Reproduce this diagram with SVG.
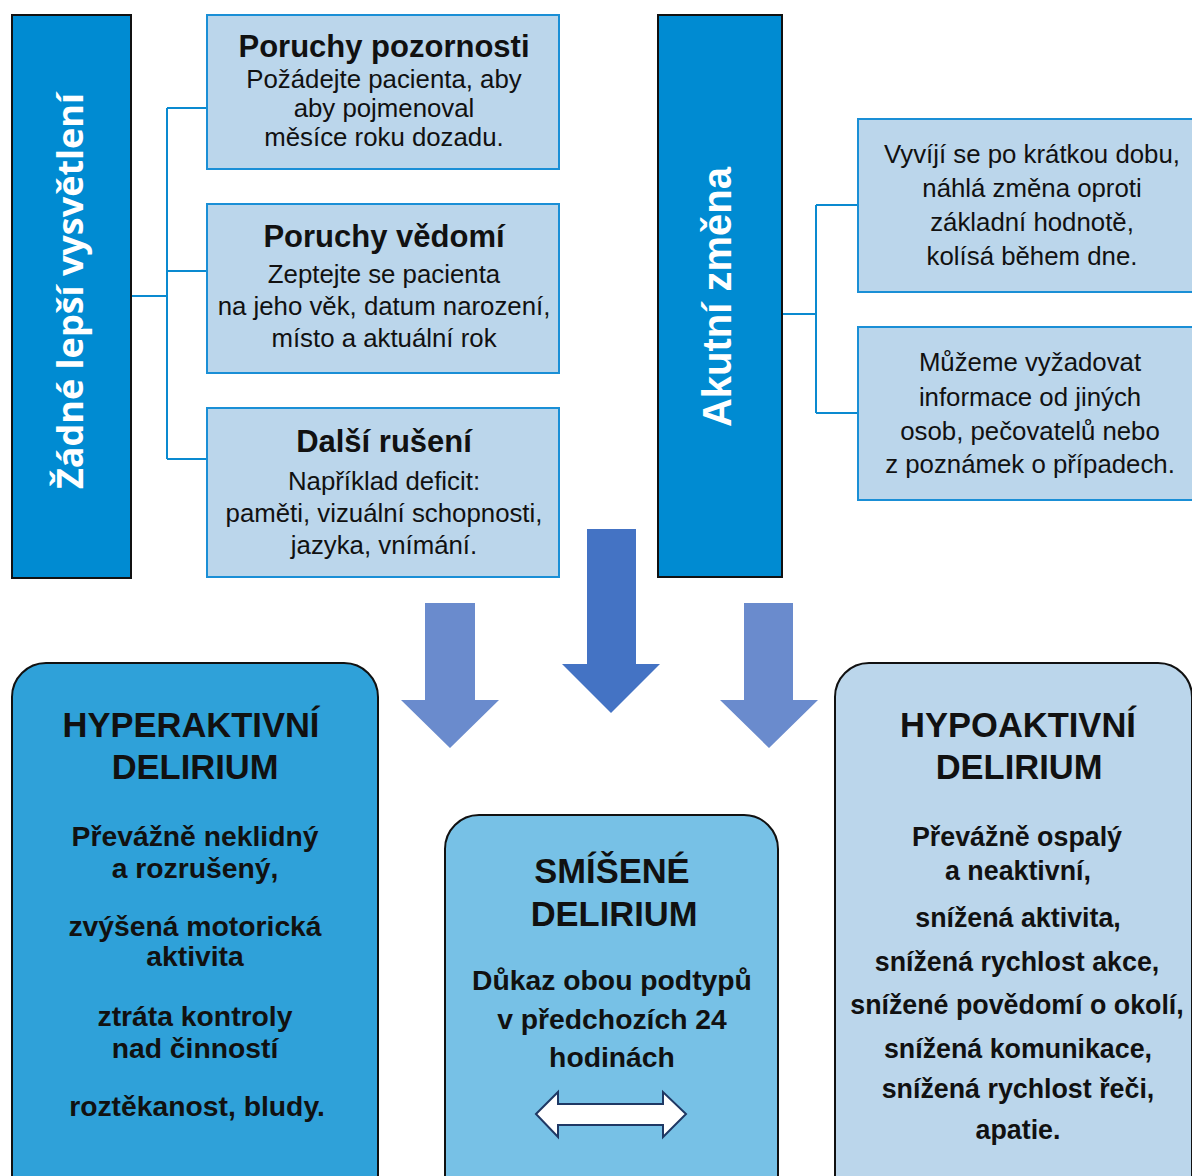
<svg xmlns="http://www.w3.org/2000/svg" width="1192" height="1176" viewBox="0 0 1192 1176">
<style>
.bar{fill:#008BD2;stroke:#111;stroke-width:2}
.box{fill:#BBD6EB;stroke:#1A8FD6;stroke-width:2}
.conn{fill:none;stroke:#0A8AD0;stroke-width:2}
.t{font-family:"Liberation Sans",Arial,sans-serif;fill:#111;text-anchor:middle}
.tt{font-size:31px;font-weight:bold}
.tb{font-size:25.8px}
.vt{fill:#fff;font-weight:bold;text-anchor:middle}
.big{fill:none;stroke:#111;stroke-width:2}
.h{font-size:34.5px;font-weight:bold}
.b{font-size:28.3px;font-weight:bold}
.b2{font-size:26.8px;font-weight:bold}
.arL{fill:#6A8BCD}
.arM{fill:#4473C4}
</style>
<rect width="1192" height="1176" fill="#fff"/>
<g id="connectors">
<path class="conn" d="M131 296 H167 M167 108 V459 M167 108 H207 M167 271 H207 M167 459 H207"/>
<path class="conn" d="M782 314 H816 M816 205 V413 M816 205 H858 M816 413 H858"/>
<polygon class="arL" points="425,603 475,603 475,700 499,700 450,748 401,700 425,700"/>
<polygon class="arM" points="587,529 636,529 636,664 660,664 611,713 562,664 587,664"/>
<polygon class="arL" points="744,603 793,603 793,700 818,700 769,748 720,700 744,700"/>
</g>
<g id="bar-left">
<rect class="bar" x="12" y="15" width="119" height="563"/>
<text class="vt" font-family="'Open Sans',sans-serif" font-size="36" transform="translate(83 291) rotate(-90)">Žádné lepší vysvětlení</text>
</g>
<g id="box-pozornost">
<rect class="box" x="207" y="15" width="352" height="154"/>
<text class="t tt" x="384" y="57">Poruchy pozornosti</text>
<text class="t tb" x="384" y="88">Požádejte pacienta, aby</text>
<text class="t tb" x="384" y="117">aby pojmenoval</text>
<text class="t tb" x="384" y="146">měsíce roku dozadu.</text>
</g>
<g id="box-vedomi">
<rect class="box" x="207" y="204" width="352" height="169"/>
<text class="t tt" x="384" y="247">Poruchy vědomí</text>
<text class="t tb" x="384" y="283">Zeptejte se pacienta</text>
<text class="t tb" x="384" y="315">na jeho věk, datum narození,</text>
<text class="t tb" x="384" y="347">místo a aktuální rok</text>
</g>
<g id="box-ruseni">
<rect class="box" x="207" y="408" width="352" height="169"/>
<text class="t tt" x="384" y="452">Další rušení</text>
<text class="t tb" x="384" y="490">Například deficit:</text>
<text class="t tb" x="384" y="522">paměti, vizuální schopnosti,</text>
<text class="t tb" x="384" y="554">jazyka, vnímání.</text>
</g>
<g id="bar-right">
<rect class="bar" x="658" y="15" width="124" height="562"/>
<text class="vt" font-family="'Liberation Sans',Arial,sans-serif" font-size="40" transform="translate(731 297) rotate(-90)">Akutní změna</text>
</g>
<g id="box-akutni">
<rect class="box" x="858" y="119" width="340" height="173"/>
<text class="t tb" x="1032" y="163">Vyvíjí se po krátkou dobu,</text>
<text class="t tb" x="1032" y="197">náhlá změna oproti</text>
<text class="t tb" x="1032" y="231">základní hodnotě,</text>
<text class="t tb" x="1032" y="265">kolísá během dne.</text>
</g>
<g id="box-informace">
<rect class="box" x="858" y="327" width="340" height="173"/>
<text class="t tb" x="1030" y="371">Můžeme vyžadovat</text>
<text class="t tb" x="1030" y="406">informace od jiných</text>
<text class="t tb" x="1030" y="440">osob, pečovatelů nebo</text>
<text class="t tb" x="1030" y="473">z poznámek o případech.</text>
</g>
<g id="hyperaktivni">
<rect class="big" x="12" y="663" width="366" height="560" rx="34" style="fill:#2FA1D9"/>
<text class="t h" x="191" y="737">HYPERAKTIVNÍ</text>
<text class="t h" x="195" y="779">DELIRIUM</text>
<text class="t b" x="195" y="846">Převážně neklidný</text>
<text class="t b" x="195" y="878">a rozrušený,</text>
<text class="t b" x="195" y="936">zvýšená motorická</text>
<text class="t b" x="195" y="966">aktivita</text>
<text class="t b" x="195" y="1026">ztráta kontroly</text>
<text class="t b" x="195" y="1058">nad činností</text>
<text class="t b" x="197" y="1116">roztěkanost, bludy.</text>
</g>
<g id="smisene">
<rect class="big" x="445" y="815" width="333" height="420" rx="34" style="fill:#77C1E6"/>
<text class="t h" x="612" y="883">SMÍŠENÉ</text>
<text class="t h" x="614" y="926">DELIRIUM</text>
<text class="t b" x="612" y="990">Důkaz obou podtypů</text>
<text class="t b" x="612" y="1029">v předchozích 24</text>
<text class="t b" x="612" y="1067">hodinách</text>
<polygon points="536,1114 558,1092 558,1104 663,1104 663,1092 686,1114 663,1137 663,1125 558,1125 558,1137" fill="#fff" stroke="#1F3864" stroke-width="2"/>
</g>
<g id="hypoaktivni">
<rect class="big" x="835" y="663" width="357" height="560" rx="34" style="fill:#BBD6EB"/>
<text class="t h" x="1018" y="737">HYPOAKTIVNÍ</text>
<text class="t h" x="1019" y="779">DELIRIUM</text>
<text class="t b2" x="1017" y="846">Převážně ospalý</text>
<text class="t b2" x="1018" y="880">a neaktivní,</text>
<text class="t b2" x="1018" y="927">snížená aktivita,</text>
<text class="t b2" x="1017" y="971">snížená rychlost akce,</text>
<text class="t b2" x="1017" y="1014">snížené povědomí o okolí,</text>
<text class="t b2" x="1018" y="1058">snížená komunikace,</text>
<text class="t b2" x="1018" y="1098">snížená rychlost řeči,</text>
<text class="t b2" x="1018" y="1139">apatie.</text>
</g>
</svg>
